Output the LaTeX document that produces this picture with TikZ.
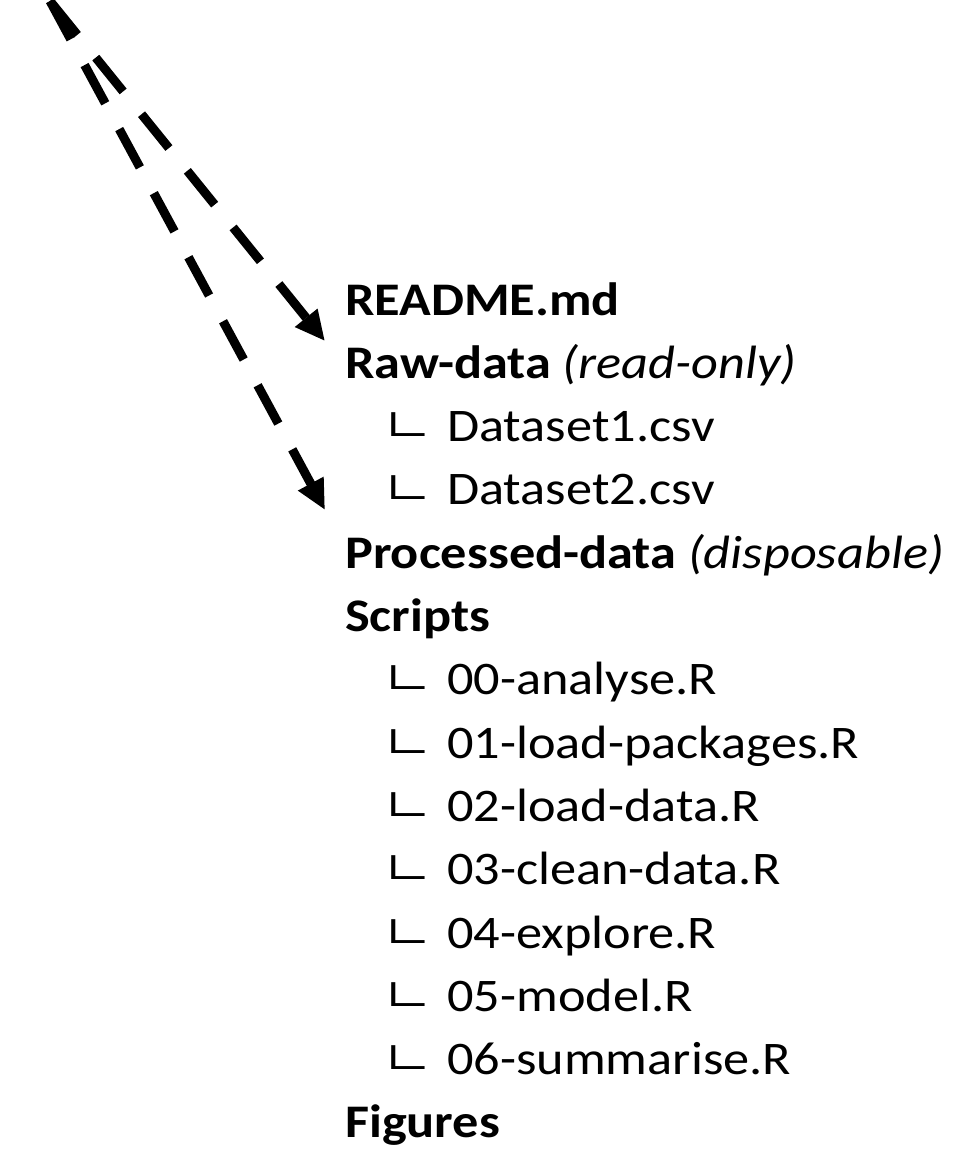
\documentclass[tikz,border=0pt]{standalone}
\usepackage{fontspec}
\setmainfont{Carlito}[FakeStretch=1.12]
\newfontfamily\branchfont{Carlito}[FakeStretch=1.4]
\usetikzlibrary{arrows.meta}

\newcommand{\branch}{\makebox[64pt][l]{\raisebox{5pt}{\branchfont\fontsize{52pt}{60pt}\selectfont ∟}}}

\begin{document}
\begin{tikzpicture}[x=1pt,y=-1pt,
    every node/.style={inner sep=0pt,anchor=base west,text height=30pt,text depth=10pt,
      font=\fontsize{46.7pt}{56pt}\selectfont},
    dir/.style={font=\fontsize{46.7pt}{56pt}\selectfont\bfseries},
    link/.style={line width=9pt,dash pattern=on 43.5pt off 29.3pt,
      -{Triangle[length=30pt,width=27pt]}}]
      \useasboundingbox (0,0) rectangle (970,1164);
      \coordinate (src) at (50,1);
      \draw
        (345,315) node[dir] (readme){README.md}
        (345,378.3) node[dir] (raw){Raw-data \normalfont\itshape(read-only)}
        (383,441.6) node (ds1){\branch Dataset1.csv}
        (383,504.9) node (ds2){\branch Dataset2.csv}
        (345,568.2) node[dir] (proc){Processed-data \normalfont\itshape(disposable)}
        (345,631.5) node[dir] (scripts){Scripts}
        (383,694.8) node (s0){\branch 00-analyse.R}
        (383,758.1) node (s1){\branch 01-load-packages.R}
        (383,821.4) node (s2){\branch 02-load-data.R}
        (383,884.7) node (s3){\branch 03-clean-data.R}
        (383,948) node (s4){\branch 04-explore.R}
        (383,1011.3) node (s5){\branch 05-model.R}
        (383,1074.6) node (s6){\branch 06-summarise.R}
        (345,1137.9) node[dir] (figs){Figures};
      \begin{scope}[link]
        \draw (src) to ([xshift=-20pt,yshift=7pt]raw.north west);
        \draw (src) to ([xshift=-20pt,yshift=28pt]proc.north west);
      \end{scope}
    \end{tikzpicture}
\end{document}
